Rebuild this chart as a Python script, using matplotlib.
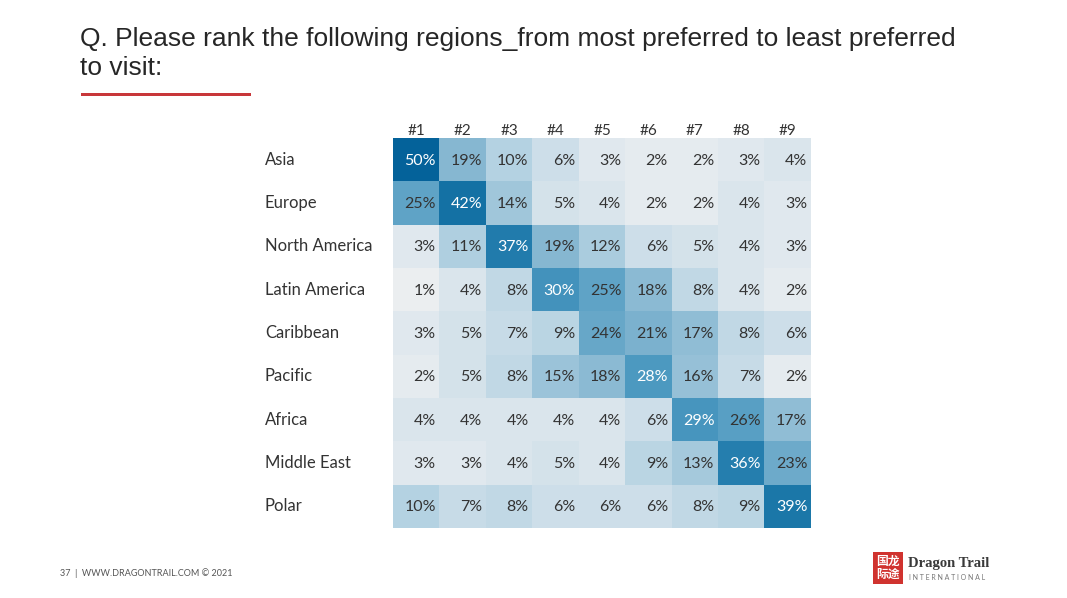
import numpy as np
import matplotlib.pyplot as plt
from matplotlib.colors import LinearSegmentedColormap
from matplotlib.patches import Rectangle

regiones = ["Asia", "Europe", "North America", "Latin America", "Caribbean",
            "Pacific", "Africa", "Middle East", "Polar"]
rangos = ["#1", "#2", "#3", "#4", "#5", "#6", "#7", "#8", "#9"]

asia = [50, 19, 10, 6, 3, 2, 2, 3, 4]
europe = [25, 42, 14, 5, 4, 2, 2, 4, 3]
north_america = [3, 11, 37, 19, 12, 6, 5, 4, 3]
latin_america = [1, 4, 8, 30, 25, 18, 8, 4, 2]
caribbean = [3, 5, 7, 9, 24, 21, 17, 8, 6]
pacific = [2, 5, 8, 15, 18, 28, 16, 7, 2]
africa = [4, 4, 4, 4, 4, 6, 29, 26, 17]
middle_east = [3, 3, 4, 5, 4, 9, 13, 36, 23]
polar = [10, 7, 8, 6, 6, 6, 8, 9, 39]

valores = np.array([asia, europe, north_america, latin_america, caribbean,
                    pacific, africa, middle_east, polar])

W, H = 1067, 598
fig = plt.figure(figsize=(W / 100, H / 100), dpi=100)
fig.patch.set_facecolor("white")

# titulo
fig.text(80 / W, 1 - 39 / H, "Q. Please rank the following regions_from most preferred to least preferred",
         fontsize=19, family="Liberation Sans", color="#262626", va="center", ha="left")
fig.text(80 / W, 1 - 68 / H, "to visit:",
         fontsize=19, family="Liberation Sans", color="#262626", va="center", ha="left")
fig.add_artist(Rectangle((81 / W, 1 - 96 / H), 170 / W, 3 / H, transform=fig.transFigure,
                         color="#c8373a", lw=0))

# mapa de calor
cmap = LinearSegmentedColormap.from_list("azul", [
    (0.00, "#f1f1f1"), (0.06, "#e0e8ee"), (0.20, "#b4d2e2"),
    (0.40, "#82b5d0"), (0.55, "#4f9bc2"), (0.75, "#1f7aab"), (1.00, "#04629a")])

ax = fig.add_axes([393 / W, 1 - 528 / H, (811 - 393) / W, (528 - 138) / H])
ax.imshow(valores, cmap=cmap, vmin=0, vmax=50, aspect="auto")
ax.set_xticks([])
ax.set_yticks([])
for s in ax.spines.values():
    s.set_visible(False)

fuente = "Lato"
for i in range(len(regiones)):
    for j in range(len(rangos)):
        v = valores[i, j]
        color = "white" if v >= 27 else "#333333"
        ax.text(j + 0.42, i + 0.02, f"{v}%", ha="right", va="center", fontsize=11.5,
                color=color, family=fuente)
    ax.text(-3.26, i, regiones[i], ha="left", va="center", fontsize=12,
            color="#333333", family=fuente)

for j, r in enumerate(rangos):
    ax.text(j, -0.67, r, ha="center", va="center", fontsize=11, color="#333333", family=fuente)

# pie de pagina
fig.text(60 / W, 1 - 573 / H, "37  |  WWW.DRAGONTRAIL.COM © 2021", fontsize=6.5,
         color="#555555", family=fuente, va="center")

fig.add_artist(Rectangle((873 / W, 1 - 584 / H), 30 / W, 32 / H, transform=fig.transFigure,
                         color="#d0332f", lw=0))
fig.text(888 / W, 1 - 568 / H, "国龙\n际途", fontsize=8.5, color="white",
         family=["Noto Sans CJK SC", "DejaVu Sans"], ha="center", va="center",
         linespacing=1.0, weight="bold")
fig.text(908 / W, 1 - 563 / H, "Dragon Trail", fontsize=10.5, color="#3a3a3a",
         family="Liberation Serif", weight="bold", va="center")
fig.text(909 / W, 1 - 577 / H, "I N T E R N A T I O N A L", fontsize=5, color="#777777",
         family=fuente, va="center")

fig.savefig("out.png", dpi=100, facecolor="white")
